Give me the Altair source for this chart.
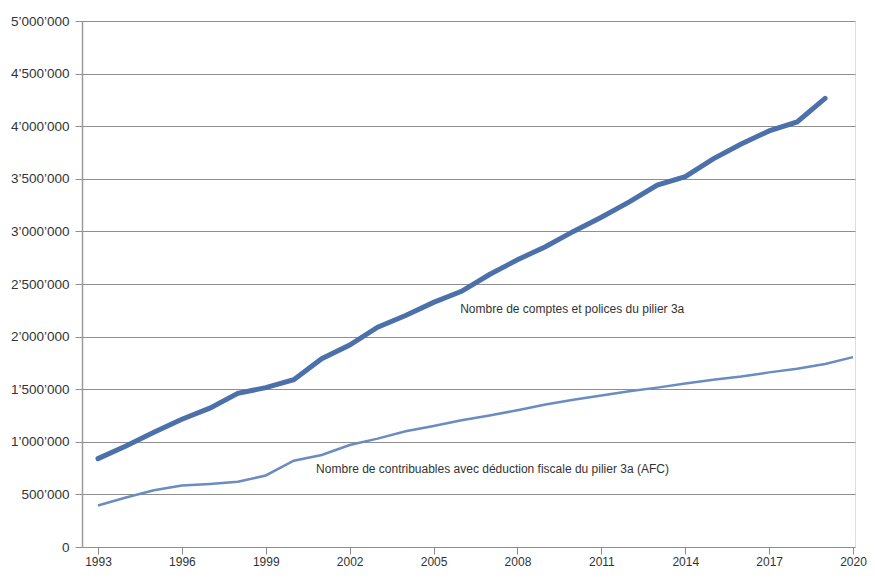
import altair as alt
import pandas as pd

years_a = list(range(1993, 2020))
comptes = [840000, 960000, 1090000, 1215000, 1320000, 1460000, 1515000, 1590000,
           1790000, 1920000, 2090000, 2200000, 2325000, 2430000, 2590000, 2730000,
           2855000, 3000000, 3135000, 3280000, 3440000, 3520000, 3690000, 3830000,
           3955000, 4040000, 4265000]

years_b = list(range(1993, 2021))
contrib = [395000, 470000, 540000, 585000, 600000, 620000, 680000, 820000,
           875000, 970000, 1030000, 1100000, 1150000, 1205000, 1250000, 1300000,
           1355000, 1400000, 1440000, 1480000, 1515000, 1555000, 1590000, 1620000,
           1660000, 1695000, 1740000, 1805000]

label_a = "Nombre de comptes et polices du pilier 3a"
label_b = "Nombre de contribuables avec déduction fiscale du pilier 3a (AFC)"

x_ticks = [1993, 1996, 1999, 2002, 2005, 2008, 2011, 2014, 2017, 2020]
y_ticks = [0, 500000, 1000000, 1500000, 2000000, 2500000, 3000000, 3500000,
           4000000, 4500000, 5000000]

df_a = pd.DataFrame({"year": years_a, "value": comptes})
df_b = pd.DataFrame({"year": years_b, "value": contrib})

xscale = alt.Scale(domain=[1992.428, 2020.07], nice=False, zero=False)
yscale = alt.Scale(domain=[0, 5000000], nice=False)

xaxis = alt.Axis(values=x_ticks, format="d", title=None, grid=False,
                 domain=False, ticks=True, tickSize=7, tickColor="#8a8a8a",
                 labelColor="#333333", labelFontSize=12, labelPadding=2,
                 labelFont="Liberation Sans", labelFlush=False, labelBound=False)
yaxis = alt.Axis(values=y_ticks, title=None, grid=True, gridColor="#8f8f8f",
                 gridWidth=1, domain=True, domainColor="#9a9a9a", domainWidth=1.5,
                 ticks=True, tickSize=7, tickColor="#8f8f8f",
                 labelColor="#333333", labelFontSize=13.5, labelPadding=6,
                 labelFont="Liberation Sans",
                 labelExpr="replace(format(datum.value, ','), regexp(',', 'g'), '\u2019')")

base_x = alt.X("year:Q", scale=xscale, axis=xaxis)
base_y = alt.Y("value:Q", scale=yscale, axis=yaxis)

line_b = alt.Chart(df_b).mark_line(color="#6a8cc0", strokeWidth=2.5).encode(
    x=base_x, y=base_y)
line_a = alt.Chart(df_a).mark_line(color="#4c70aa", strokeWidth=5,
                                   strokeCap="round").encode(x=base_x, y=base_y)

text_a = alt.Chart(pd.DataFrame({"t": [label_a]})).mark_text(
    align="left", baseline="middle", fontSize=12, font="Liberation Sans",
    color="#333333").encode(x=alt.datum(2005.95), y=alt.datum(2260000), text="t:N")
text_b = alt.Chart(pd.DataFrame({"t": [label_b]})).mark_text(
    align="left", baseline="middle", fontSize=12, font="Liberation Sans",
    color="#333333").encode(x=alt.datum(2000.8), y=alt.datum(744000), text="t:N")

chart = alt.layer(line_b, line_a, text_a, text_b).properties(
    width=773, height=526,
    padding={"left": 74, "top": 13, "right": 12, "bottom": 21},
    autosize=alt.AutoSizeParams(type="none"),
).configure_view(stroke=None).configure(background="white")

chart.save("out.html", embed_options={"renderer": "svg", "actions": False})
